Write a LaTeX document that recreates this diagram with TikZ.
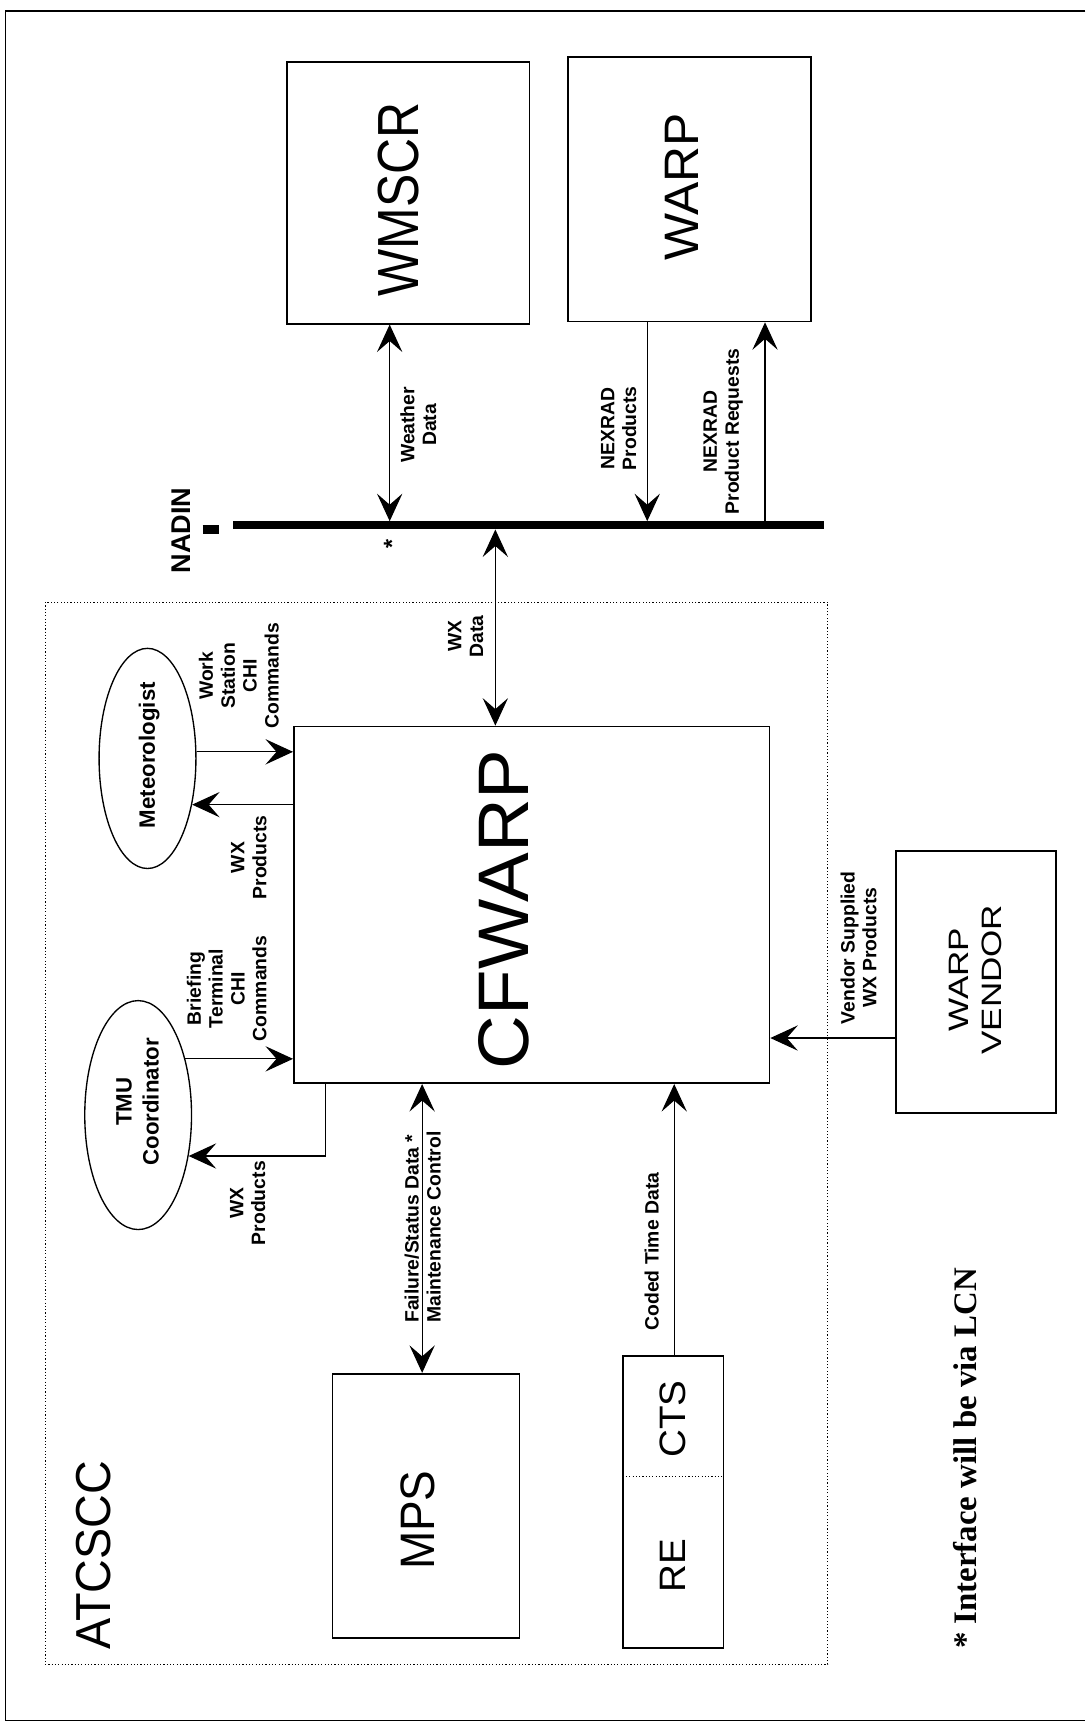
\documentclass[tikz,border=0pt]{standalone}
\usepackage{fontspec}
\setmainfont{Liberation Sans}
\newfontfamily\notefont{Liberation Serif}
\usetikzlibrary{shapes.geometric,arrows.meta}

\begin{document}
\begin{tikzpicture}[x=0.2mm, y=-0.2mm, >={Stealth[length=5mm, width=4.6mm, inset=2mm]}]
        \tikzstyle{sys_box}  = [shape = rectangle, draw = black, line width = 0.9pt, inner sep = 0pt]
        \tikzstyle{actor}    = [shape = ellipse,   draw = black, line width = 0.7pt, inner sep = 0pt]
        \tikzstyle{sys_name} = [rotate = 90, inner sep = 0pt]
        \tikzstyle{flow_lbl} = [rotate = 90, align = center, inner sep = 0pt, font = \bfseries\fontsize{10}{11.3}\selectfont]
        \tikzstyle{flow}     = [line width = 0.6pt]
        \tikzstyle{bus}      = [line width = 4.3pt]

        \useasboundingbox (0,0) rectangle (986,1568);
        \draw[line width = 0.9pt] (986,10) -- (5,10) -- (5,1563) -- (986,1563);
        \draw[line width = 0.6pt, dash pattern = on 0.6pt off 1.1pt] (41,547) rectangle (752,1512);

        \node[sys_box, minimum width = 44mm,   minimum height = 47.6mm] at (371,  175)   (wmscr)  {};
        \node[sys_name, font = \fontsize{30}{34}\selectfont] at (362, 181) (wmscr_name) {\scalebox{0.86}[1]{WMSCR}};

        \node[sys_box, minimum width = 44.2mm, minimum height = 48mm]   at (626.5, 172)   (warp)   {};
        \node[sys_name, font = \fontsize{25}{29}\selectfont] at (619, 170) (warp_name) {\scalebox{1.03}[1]{WARP}};

        \node[sys_box, minimum width = 86.4mm, minimum height = 64.8mm] at (483,  822)   (cfwarp) {};
        \node[sys_name, font = \fontsize{37}{42}\selectfont] at (458, 826) (cfwarp_name) {\scalebox{1.04}[1]{CFWARP}};

        \node[sys_box, minimum width = 34mm,   minimum height = 48mm]   at (387, 1368)   (mps)    {};
        \node[sys_name, font = \fontsize{25}{29}\selectfont] at (380, 1381) (mps_name) {\scalebox{0.95}[1]{MPS}};

        \node[minimum width = 18.2mm, minimum height = 21.8mm, inner sep = 0pt] at (611.5, 1286.5) (cts) {};
        \node[minimum width = 18.2mm, minimum height = 31.2mm, inner sep = 0pt] at (611.5, 1419)   (re)  {};
        \draw[line width = 0.9pt] (cts.north west) rectangle (re.south east);
        \draw[line width = 0.6pt, dash pattern = on 0.6pt off 1.1pt] (cts.south west) -- (cts.south east);
        \node[sys_name, font = \fontsize{19}{22}\selectfont] at (611, 1289) (cts_name) {\scalebox{1.05}[1]{CTS}};
        \node[sys_name, font = \fontsize{19}{22}\selectfont] at (611, 1422) (re_name)  {\scalebox{1.05}[1]{RE}};

        \node[sys_box, minimum width = 29mm,   minimum height = 47.6mm] at (886.5, 892)  (vendor) {};
        \node[sys_name, font = \fontsize{14.5}{17}\selectfont] at (889, 890) (vendor_name)
          {\scalebox{1.25}[1]{\begin{tabular}{@{}c@{}}WARP\\VENDOR\end{tabular}}};

        \node[actor, minimum width = 17.6mm, minimum height = 40mm]   at (134,   689)  (met) {};
        \node[flow_lbl, font = \bfseries\fontsize{11.5}{14}\selectfont] at (135.5, 686) (met_name) {Meteorologist};

        \node[actor, minimum width = 19.4mm, minimum height = 41.6mm] at (125.5, 1013)  (tmu) {};
        \node[flow_lbl, font = \bfseries\fontsize{11.5}{14}\selectfont] at (125, 1001) (tmu_name) {TMU\\Coordinator};

        \node[sys_name, font = \fontsize{25.4}{29}\selectfont] at (85, 1413) (atcscc_name) {\scalebox{0.95}[1]{ATCSCC}};

        \coordinate (bus_w)   at (212, 477);
        \coordinate (bus_e)   at (749, 477);
        \coordinate (stub_w)  at (184, 481);
        \coordinate (stub_e)  at (199, 481);
        \coordinate (bus_top) at (0, 473.5);
        \coordinate (bus_bot) at (0, 481);
        \draw[bus] (bus_w) -- (bus_e);
        \draw[bus] (stub_w) -- (stub_e);
        \node[flow_lbl, font = \bfseries\fontsize{14}{16}\selectfont] at (165, 482) (nadin_name) {NADIN};
        \node[flow_lbl, font = \bfseries\fontsize{12}{14}\selectfont] at (356, 494) (lcn_mark) {*};

        \draw[flow, <->] (bus_top -| 354,0)     -- (wmscr.south -| 354,0);
        \draw[flow, <->] (bus_bot -| 450,0)     -- (cfwarp.north -| 450,0);
        \draw[flow, <->] (mps.north -| 383.5,0) -- (cfwarp.south -| 383.5,0);

        \draw[flow, ->] (warp.south -| 588,0)   -- (bus_top -| 588,0);
        \draw[flow, ->] (bus_top -| 695,0)      -- (warp.south -| 695,0);
        \draw[flow, ->] (met.east |- 0,683)     -- (cfwarp.west |- 0,683);
        \draw[flow, ->] (cfwarp.west |- met.-46) -- (met.-46);
        \draw[flow, ->] (tmu.50)                -- (cfwarp.west |- tmu.50);
        \draw[flow, ->] (cfwarp.south -| 296,0) |- (tmu.-39);
        \draw[flow, ->] (cts.north -| 612.5,0)  -- (cfwarp.south -| 612.5,0);
        \draw[flow, ->] (vendor.west |- 0,943)  -- (cfwarp.east |- 0,943);

        \node[flow_lbl] at (380,  386)  (lbl_weather)  {Weather\\Data};
        \node[flow_lbl] at (562,  389)  (lbl_nexprod)  {NEXRAD\\Products};
        \node[flow_lbl] at (657,  392)  (lbl_nexreq)   {NEXRAD\\Product Requests};
        \node[flow_lbl] at (423,  578)  (lbl_wxdata)   {WX\\Data};
        \node[flow_lbl] at (217,  614)  (lbl_wscmd)    {Work\\Station\\CHI\\Commands};
        \node[flow_lbl] at (226,  779)  (lbl_metprod)  {WX\\Products};
        \node[flow_lbl] at (206,  898)  (lbl_btcmd)    {Briefing\\Terminal\\CHI\\Commands};
        \node[flow_lbl] at (225, 1093)  (lbl_tmuprod)  {WX\\Products};
        \node[flow_lbl, anchor = west] at (374, 1202) (lbl_fail)  {Failure/Status Data *};
        \node[flow_lbl, anchor = west] at (394, 1202) (lbl_maint) {Maintenance Control};
        \node[flow_lbl] at (592, 1137)  (lbl_time)     {Coded Time Data};
        \node[flow_lbl] at (780,  861)  (lbl_vendor)   {Vendor Supplied\\WX Products};

        \node[flow_lbl, font = \notefont\bfseries\fontsize{17}{20}\selectfont] at (877, 1325) (note) {* Interface will be via LCN};
      \end{tikzpicture}
\end{document}
